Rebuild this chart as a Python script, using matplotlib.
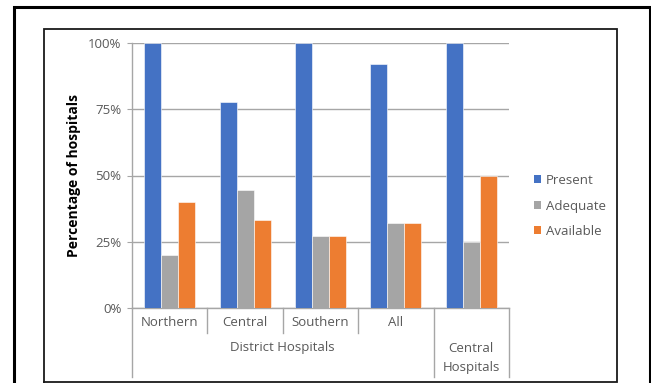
import numpy as np
import matplotlib
matplotlib.use("Agg")
from matplotlib import pyplot as plt
from matplotlib.lines import Line2D
from matplotlib.patches import Patch

# data (percent)
categories = ["Northern", "Central", "Southern", "All", "Central\nHospitals"]
present = [100, 77.8, 100, 92, 100]
adequate = [20, 44.4, 27, 32, 25]
available = [40, 33.3, 27, 32, 50]
series_names = ["Present", "Adequate", "Available"]
yticks = [0, 25, 50, 75, 100]
ytick_labels = ["0%", "25%", "50%", "75%", "100%"]

W, H = 651, 383
colors = ["#4472C4", "#A5A5A5", "#ED7D31"]
txt_gray = "#595959"
line_gray = "#A6A6A6"

plt.rcParams["font.family"] = ["Open Sans", "DejaVu Sans"]

fig = plt.figure(figsize=(W / 100, H / 100), dpi=100)
fig.patch.set_facecolor("white")


def fx(x):
    return x / W


def fy(y):
    return 1 - y / H


ax = fig.add_axes([fx(132), fy(308), fx(509) - fx(132), fy(43) - fy(308)])

x = np.arange(len(categories))
bw = 0.225
for i, vals in enumerate([present, adequate, available]):
    ax.bar(x + (i - 1) * bw, vals, width=bw, color=colors[i],
           edgecolor="white", linewidth=0.4, zorder=3, label=series_names[i])

ax.set_xlim(-0.5, len(categories) - 0.5)
ax.set_ylim(0, 100)
ax.set_yticks(yticks)
ax.set_yticklabels(ytick_labels)
ax.set_xticks([])
ax.grid(axis="y", color=line_gray, linewidth=1.0, zorder=0)
ax.tick_params(axis="y", length=3.5, width=0.8, color=line_gray,
               labelcolor=txt_gray, labelsize=9.5, pad=4)
for s in ["top", "right"]:
    ax.spines[s].set_visible(False)
for s in ["left", "bottom"]:
    ax.spines[s].set_color(line_gray)
    ax.spines[s].set_linewidth(1.0)
ax.set_ylabel("Percentage of hospitals", fontsize=10, fontweight="bold",
              labelpad=5)

# multi-level category axis
tr = ax.get_xaxis_transform()
y_short = -25 / 265
y_long = -69 / 265
for sep in [0.5, 1.5, 2.5]:
    ax.plot([sep, sep], [0, y_short], transform=tr, color=line_gray,
            linewidth=1.0, clip_on=False)
for sep in [-0.5, 3.5, 4.5]:
    ax.plot([sep, sep], [0, y_long], transform=tr, color=line_gray,
            linewidth=1.0, clip_on=False)
for i, c in enumerate(categories[:4]):
    ax.text(i, -14 / 265, c, transform=tr, ha="center", va="center",
            fontsize=9.5, color=txt_gray)
ax.text(1.5, -40 / 265, "District Hospitals", transform=tr, ha="center",
        va="center", fontsize=9.5, color=txt_gray)
ax.text(4, -50 / 265, categories[4], transform=tr, ha="center",
        va="center", fontsize=9.5, color=txt_gray, linespacing=1.5)

handles = [Patch(facecolor=c, edgecolor="none") for c in colors]
fig.legend(handles, series_names, loc="center left",
           bbox_to_anchor=(fx(522), fy(206)), frameon=False,
           handlelength=0.55, handleheight=0.55, handletextpad=0.35,
           labelspacing=0.95, fontsize=9.5, labelcolor=txt_gray)

# frames around the chart
def frame(x0, y0, x1, y1, lw, col, bottom=True):
    pts = [(x0, y1), (x0, y0), (x1, y0), (x1, y1)]
    if bottom:
        pts.append((x0, y1))
    xs = [fx(p[0]) for p in pts]
    ys = [fy(p[1]) for p in pts]
    fig.add_artist(Line2D(xs, ys, transform=fig.transFigure, color=col,
                          linewidth=lw, solid_joinstyle="miter"))

frame(13.5, 6.5, 649.5, 390, 2.2, "black", bottom=False)
frame(43.5, 29, 617, 381.5, 1.3, "#1a1a1a")

fig.savefig("out.png", dpi=100)
